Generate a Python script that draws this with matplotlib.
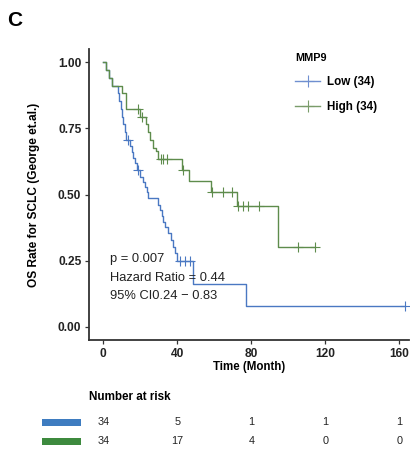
import matplotlib
matplotlib.use("Agg")
import matplotlib.pyplot as plt
from matplotlib.patches import Rectangle
from matplotlib.lines import Line2D

plt.rcParams['font.family'] = ['Liberation Sans', 'DejaVu Sans']

# Kaplan-Meier steps (months, survival)
low_t = [0, 1.5, 3.0, 4.5, 7.8, 8.7, 9.6, 10.2, 10.9, 11.5, 12.3, 14.3, 15.3, 16.2, 17.1, 18.0,
         19.8, 21.6, 22.5, 23.5, 24.3, 29.7, 30.6, 31.6, 32.5, 33.4, 34.8, 36.5, 37.8, 38.8, 39.7,
         48.6, 77.0]
low_s = [1.0, 0.971, 0.941, 0.912, 0.882, 0.853, 0.824, 0.794, 0.765, 0.735, 0.706, 0.684, 0.662,
         0.640, 0.618, 0.593, 0.568, 0.549, 0.530, 0.511, 0.486, 0.461, 0.442, 0.417, 0.398, 0.379,
         0.354, 0.329, 0.303, 0.278, 0.250, 0.162, 0.080]
low_end = 163.0
low_cens_t = [13.2, 18.9, 41.5, 44.2, 46.9, 163.0]
low_cens_s = [0.706, 0.593, 0.250, 0.250, 0.250, 0.080]

high_t = [0, 1.5, 3.0, 4.5, 10.3, 12.1, 19.8, 23.1, 24.3, 25.2, 27.0, 28.5, 29.8, 42.4, 46.5,
          58.0, 72.1, 94.6]
high_s = [1.0, 0.971, 0.941, 0.912, 0.882, 0.824, 0.794, 0.765, 0.735, 0.706, 0.676, 0.663, 0.634,
          0.594, 0.553, 0.511, 0.455, 0.303]
high_end = 114.6
high_cens_t = [18.9, 20.9, 31.2, 32.5, 34.2, 42.9, 58.6, 64.5, 69.4, 72.8, 75.7, 78.4, 84.0, 105.4, 114.6]
high_cens_s = [0.824, 0.794, 0.634, 0.634, 0.634, 0.594, 0.511, 0.511, 0.511, 0.455, 0.455, 0.455,
               0.455, 0.303, 0.303]

risk_times = [0, 40, 80, 120, 160]
risk_low = [34, 5, 1, 1, 1]
risk_high = [34, 17, 4, 0, 0]

blue = '#4a78c2'
green = '#5e8c4c'

fig = plt.figure(figsize=(4.12, 4.54), dpi=100)
ax = fig.add_axes([0.216, 0.251, 0.776, 0.641])

ax.step(low_t + [low_end], low_s + [low_s[-1]], where='post', color=blue, lw=1.0)
ax.step(high_t + [high_end], high_s + [high_s[-1]], where='post', color=green, lw=1.0)
ax.plot(low_cens_t, low_cens_s, ls='none', marker='+', ms=7, mew=0.8, color=blue)
ax.plot(high_cens_t, high_cens_s, ls='none', marker='+', ms=7, mew=0.8, color=green)

ax.set_xlim(-7.7, 165)
ax.set_ylim(-0.05, 1.05)
ax.set_xticks(risk_times)
ax.set_yticks([0, 0.25, 0.5, 0.75, 1.0])
ax.set_yticklabels(['0.00', '0.25', '0.50', '0.75', '1.00'])
for s in ['top', 'right']:
    ax.spines[s].set_visible(False)
for s in ['left', 'bottom']:
    ax.spines[s].set_color('#333333')
    ax.spines[s].set_linewidth(1.3)
ax.tick_params(length=3, width=0.9, color='#333333', labelsize=8.6, labelcolor='#222222', pad=2.5)
for lab in ax.get_xticklabels() + ax.get_yticklabels():
    lab.set_fontweight('bold')
ax.set_xlabel('Time (Month)', fontsize=8.3, fontweight='bold', labelpad=1)
ax.set_ylabel('OS Rate for SCLC (George et.al.)', fontsize=8.6, fontweight='bold', labelpad=13)

ax.text(0.066, 0.279, 'p = 0.007', transform=ax.transAxes, fontsize=9.3, color='#222222', va='center')
ax.text(0.066, 0.214, 'Hazard Ratio = 0.44', transform=ax.transAxes, fontsize=9.3, color='#222222', va='center')
ax.text(0.066, 0.151, '95% CI0.24 \u2212 0.83', transform=ax.transAxes, fontsize=9.3, color='#222222', va='center')

handles = [Line2D([], [], color='#6f8fd0', lw=1.0, marker='+', ms=8, mew=0.8),
           Line2D([], [], color='#7a9c6a', lw=1.0, marker='+', ms=8, mew=0.8)]
leg = fig.legend(handles, ['Low (34)', 'High (34)'], title='MMP9', loc='upper left',
                 bbox_to_anchor=(0.69, 0.906), frameon=False, fontsize=8.4,
                 title_fontproperties={'weight': 'bold', 'size': 7.8},
                 labelspacing=1.1, handlelength=2.2, handletextpad=0.6, alignment='left')
for t in leg.get_texts():
    t.set_fontweight('bold')

fig.text(0.018, 0.955, 'C', fontsize=15, fontweight='bold', va='center')

# number at risk table
fig.text(0.216, 0.126, 'Number at risk', fontsize=8.4, fontweight='bold', va='center')
rax = fig.add_axes([0.216, 0.0, 0.776, 0.115])
rax.set_xlim(ax.get_xlim())
rax.set_ylim(0, 1)
rax.axis('off')
for i, n in enumerate(risk_low):
    rax.text(risk_times[i], 0.62, str(n), ha='center', va='center', fontsize=7.8, color='#222222')
for i, n in enumerate(risk_high):
    rax.text(risk_times[i], 0.25, str(n), ha='center', va='center', fontsize=7.8, color='#222222')
fig.add_artist(Rectangle((0.101, 0.062), 0.095, 0.016, transform=fig.transFigure,
                         color='#3e7cc0', lw=0))
fig.add_artist(Rectangle((0.101, 0.020), 0.095, 0.016, transform=fig.transFigure,
                         color='#3d8a3e', lw=0))

fig.savefig('out.png', dpi=100)
